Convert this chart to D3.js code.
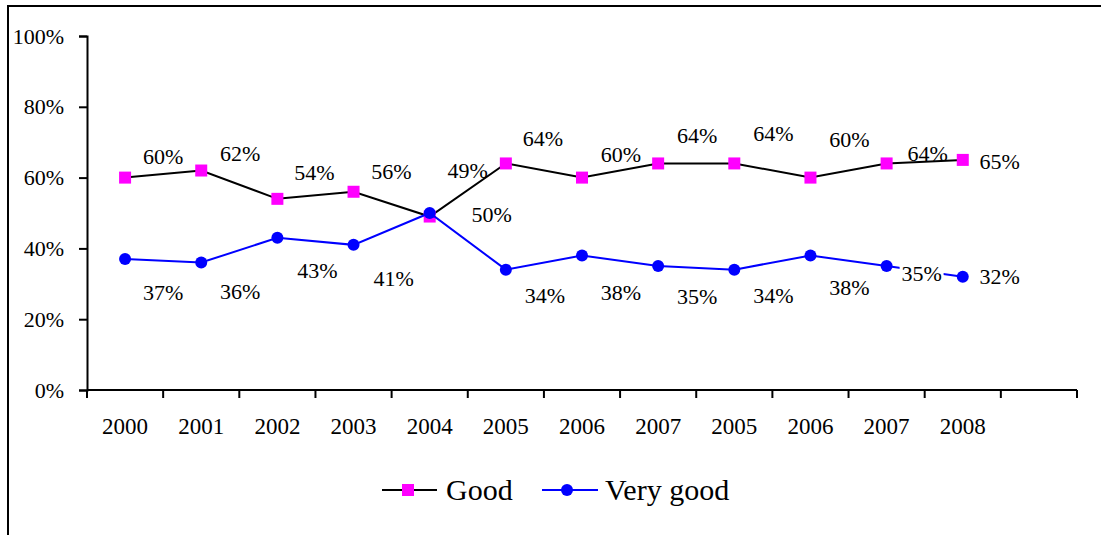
<!DOCTYPE html>
<html>
<head>
<meta charset="utf-8">
<script src="https://cdn.jsdelivr.net/npm/d3@7/dist/d3.min.js"></script>
<style>
  html, body { margin: 0; padding: 0; background: #fff; }
  svg { display: block; }
</style>
</head>
<body>
<svg id="chart" width="1101" height="535"></svg>
<script>
// Survey years along the axis (later years repeat for a second wave)
const years = ["2000", "2001", "2002", "2003", "2004", "2005", "2006", "2007", "2005", "2006", "2007", "2008"];
// Share of respondents, per cent
const good = [60, 62, 54, 56, 49, 64, 60, 64, 64, 60, 64, 65];
const veryGood = [37, 36, 43, 41, 50, 34, 38, 35, 34, 38, 35, 32];
const yTicks = [0, 20, 40, 60, 80, 100];

// Hand-placed value label nudges [dx, dy] in px, relative to each point
const goodLabelNudge = [[38, -21], [39, -17], [37, -27], [38, -20], [38, -46], [37, -25], [39, -23], [39, -28], [39, -30], [39, -38], [41, -10], [37, 1]];
const veryGoodLabelNudge = [[38, 33], [39, 29], [40, 33], [40, 33], [62, 1], [39, 26], [39, 37], [39, 30], [39, 26], [39, 32], [35, 7], [37, 0]];

const FONT = "'Liberation Serif'";
const serif = (sel, size) => sel.style("font-family", FONT).style("font-size", size + "px").attr("fill", "#000");

const svg = d3.select("#chart");

// outer frame
svg.append("rect")
  .attr("x", 8).attr("y", 6).attr("width", 1110).attr("height", 560)
  .attr("fill", "none").attr("stroke", "#000").attr("stroke-width", 2);

const plotLeft = 87, plotRight = 1077, plotTop = 36, plotBottom = 390;

// one trailing empty slot keeps the last band free, as the axis runs past 2008
const slots = years.map((_, i) => i).concat([years.length]);
const x = d3.scaleBand().domain(slots).range([plotLeft, plotRight]).paddingInner(0).paddingOuter(0);
const cx = i => x(i) + x.bandwidth() / 2;
const y = d3.scaleLinear().domain([0, 100]).range([plotBottom, plotTop]);

// y axis
const yAxis = svg.append("g")
  .attr("transform", `translate(${plotLeft},0)`)
  .call(d3.axisLeft(y).tickValues(yTicks).tickFormat(d => d + "%").tickSize(8).tickPadding(15));
serif(yAxis.selectAll("text"), 22);
yAxis.selectAll("path, line").attr("stroke", "#000").attr("stroke-width", 2);

// x axis: baseline, boundary ticks, centred year labels
const xg = svg.append("g");
xg.append("line")
  .attr("x1", plotLeft).attr("x2", plotRight).attr("y1", plotBottom).attr("y2", plotBottom)
  .attr("stroke", "#000").attr("stroke-width", 2);
const bounds = slots.map(i => x(i)).concat([plotRight]);
xg.selectAll("line.tick").data(bounds).join("line")
  .attr("class", "tick")
  .attr("x1", d => d).attr("x2", d => d)
  .attr("y1", plotBottom).attr("y2", plotBottom + 8)
  .attr("stroke", "#000").attr("stroke-width", 2);
serif(xg.selectAll("text").data(years).join("text")
  .attr("x", (d, i) => cx(i))
  .attr("y", 434)
  .attr("text-anchor", "middle")
  .text(d => d), 23);

const line = d3.line().x((d, i) => cx(i)).y(d => y(d));

// Good series
svg.append("path").datum(good)
  .attr("d", line).attr("fill", "none").attr("stroke", "#000").attr("stroke-width", 2);
svg.selectAll("rect.good").data(good).join("rect")
  .attr("class", "good")
  .attr("x", (d, i) => cx(i) - 6).attr("y", d => y(d) - 6)
  .attr("width", 12).attr("height", 12)
  .attr("fill", "#ff00ff");

// Very good series
svg.append("path").datum(veryGood)
  .attr("d", line).attr("fill", "none").attr("stroke", "#0000ff").attr("stroke-width", 2);
svg.selectAll("circle.vg").data(veryGood).join("circle")
  .attr("class", "vg")
  .attr("cx", (d, i) => cx(i)).attr("cy", d => y(d)).attr("r", 6)
  .attr("fill", "#0000ff");

// value labels for Good
serif(svg.selectAll("text.good-label").data(good).join("text")
  .attr("class", "good-label")
  .attr("x", (d, i) => cx(i) + goodLabelNudge[i][0])
  .attr("y", (d, i) => y(d) + goodLabelNudge[i][1])
  .attr("text-anchor", "middle")
  .attr("dy", "0.35em")
  .text(d => d + "%"), 22);

// value labels for Very good sit on an opaque white box
const vgLabels = svg.selectAll("g.vg-label").data(veryGood).join("g")
  .attr("class", "vg-label")
  .attr("transform", (d, i) => `translate(${cx(i) + veryGoodLabelNudge[i][0]},${y(d) + veryGoodLabelNudge[i][1]})`);
vgLabels.append("rect")
  .attr("x", -22).attr("y", -12).attr("width", 44).attr("height", 24)
  .attr("fill", "#fff");
serif(vgLabels.append("text")
  .attr("text-anchor", "middle")
  .attr("dy", "0.35em")
  .text(d => d + "%"), 22);

// legend
const legendY = 490;
const lg = svg.append("g");
lg.append("line").attr("x1", 382).attr("x2", 437).attr("y1", legendY).attr("y2", legendY)
  .attr("stroke", "#000").attr("stroke-width", 2);
lg.append("rect").attr("x", 408 - 6).attr("y", legendY - 6).attr("width", 12).attr("height", 12)
  .attr("fill", "#ff00ff");
serif(lg.append("text").attr("x", 446).attr("y", legendY).attr("dy", "0.34em").text("Good"), 30);
lg.append("line").attr("x1", 542).attr("x2", 598).attr("y1", legendY).attr("y2", legendY)
  .attr("stroke", "#0000ff").attr("stroke-width", 2);
lg.append("circle").attr("cx", 567).attr("cy", legendY).attr("r", 6).attr("fill", "#0000ff");
serif(lg.append("text").attr("x", 605).attr("y", legendY).attr("dy", "0.34em").text("Very good"), 30);
</script>
</body>
</html>
